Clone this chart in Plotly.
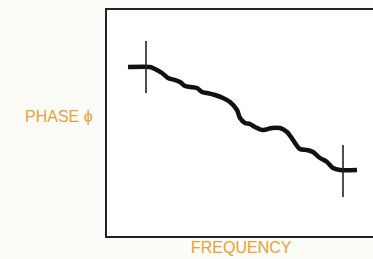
import plotly.graph_objects as go

# Schematic phase-vs-frequency curve (arbitrary units)
frequency = [21, 43, 48, 55, 61, 68, 73, 78, 83, 90, 95, 100, 108, 116, 123, 130, 133,
             138, 143, 148, 156, 165, 173, 180, 186, 193, 200, 206, 213, 220, 226, 233, 250]
phase = [169, 169, 167, 163, 158, 156, 154, 150, 149, 148, 144, 143, 141, 138, 134, 126, 118,
         113, 112, 109, 106, 108, 108, 104, 96, 87, 86, 84, 78, 74, 68, 66, 66]

marker_freq = [39, 236]
marker_phase = [169, 65]

ORANGE = "#EDA034"

fig = go.Figure()
fig.add_trace(go.Scatter(
    x=frequency, y=phase, mode="lines",
    line=dict(color="#111111", width=4.5, shape="spline", smoothing=0.8),
    hoverinfo="skip", showlegend=False,
))
fig.add_trace(go.Scatter(
    x=marker_freq, y=marker_phase, mode="markers",
    marker=dict(symbol="line-ns", size=37, line=dict(color="#222222", width=1.6)),
    hoverinfo="skip", showlegend=False,
))

fig.update_layout(
    width=373, height=259,
    margin=dict(l=107, r=0, t=10, b=23),
    paper_bgcolor="#FBFBF8", plot_bgcolor="#FFFFFF",
    xaxis=dict(range=[0, 266], showgrid=False, zeroline=False, showticklabels=False,
               ticks="", showline=True, linecolor="#222222", linewidth=2, mirror=True,
               fixedrange=True),
    yaxis=dict(range=[0, 226], showgrid=False, zeroline=False, showticklabels=False,
               ticks="", showline=True, linecolor="#222222", linewidth=2, mirror=False,
               fixedrange=True),
    annotations=[
        dict(text="PHASE ϕ", xref="paper", yref="paper", x=-0.045, y=0.528,
             xanchor="right", yanchor="middle", showarrow=False,
             font=dict(family="Liberation Sans, Arial, sans-serif", size=16, color=ORANGE)),
        dict(text="FREQUENCY", xref="paper", yref="paper", x=0.507, y=-0.05,
             xanchor="center", yanchor="middle", showarrow=False,
             font=dict(family="Liberation Sans, Arial, sans-serif", size=16, color=ORANGE)),
    ],
)

fig.write_html(
    "out.html",
    config={"displayModeBar": False},
    post_script="document.body.style.margin='0';document.body.style.background='#FBFBF8';",
)
